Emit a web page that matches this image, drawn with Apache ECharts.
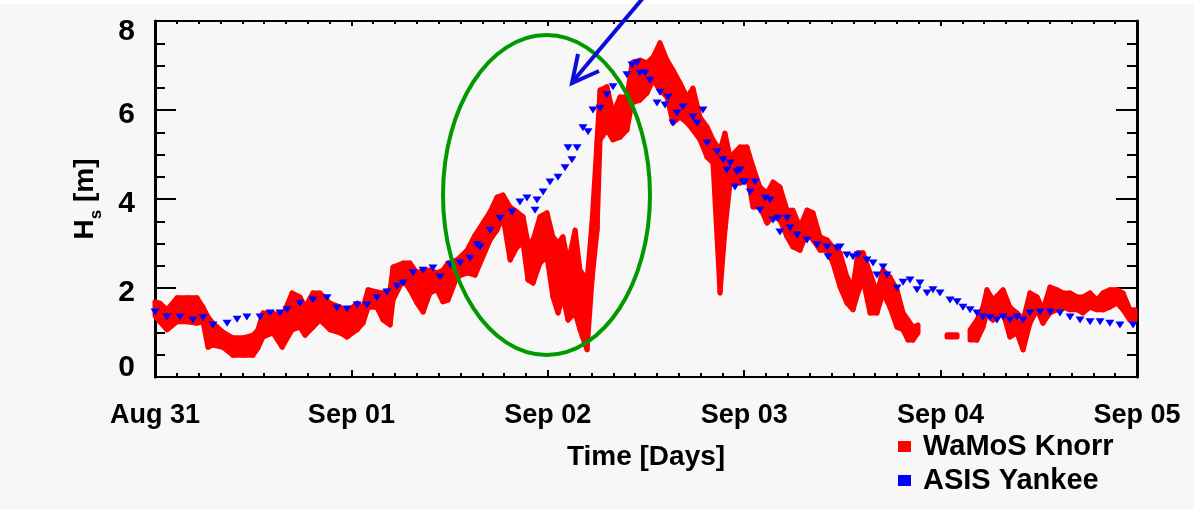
<!DOCTYPE html>
<html>
<head>
<meta charset="utf-8">
<script src="https://cdn.jsdelivr.net/npm/echarts@6/dist/echarts.min.js"></script>
<style>
html,body{margin:0;padding:0;background:#f7f7f7;}
#chart{width:1194px;height:509px;}
</style>
</head>
<body>
<div id="chart"></div>
<script>
// X tick labels (days since Aug 31)
const xTickLabels = ['Aug 31', 'Sep 01', 'Sep 02', 'Sep 03', 'Sep 04', 'Sep 05'];
const seriesNames = ['WaMoS Knorr', 'ASIS Yankee'];

// ASIS Yankee (blue) – time in days since Aug 31, Hs in m
const blueDays = [0.000,0.061,0.127,0.193,0.244,0.295,0.367,0.418,0.468,0.535,0.586,0.636,0.672,0.738,0.804,0.876,0.927,0.978,1.029,1.079,1.130,1.181,1.232,1.263,1.314,1.365,1.415,1.451,1.502,1.553,1.604,1.640,1.655,1.706,1.757,1.818,1.858,1.894,1.935,1.945,1.976,2.011,2.052,2.088,2.123,2.103,2.149,2.179,2.205,2.230,2.266,2.301,2.332,2.403,2.429,2.454,2.469,2.495,2.520,2.556,2.571,2.597,2.612,2.637,2.658,2.688,2.739,2.760,2.790,2.811,2.862,2.892,2.912,2.928,2.953,2.963,2.979,2.994,3.004,3.030,3.055,3.080,3.106,3.131,3.147,3.172,3.182,3.218,3.233,3.269,3.320,3.371,3.422,3.427,3.473,3.488,3.523,3.554,3.579,3.625,3.656,3.676,3.707,3.727,3.778,3.809,3.844,3.880,3.895,3.931,3.961,3.997,4.048,4.084,4.114,4.150,4.185,4.216,4.251,4.287,4.318,4.353,4.389,4.420,4.455,4.506,4.557,4.608,4.659,4.710,4.761,4.812,4.862,4.913,4.980];
const blueHs = [1.46,1.35,1.35,1.28,1.33,1.17,1.21,1.30,1.35,1.35,1.44,1.44,1.51,1.66,1.73,1.78,1.55,1.53,1.62,1.62,1.78,1.91,2.04,2.11,2.34,2.40,2.45,2.25,2.52,2.56,2.67,2.97,2.92,3.30,3.57,3.71,3.93,4.02,3.75,3.98,4.16,4.38,4.49,4.70,4.88,5.15,5.15,5.60,5.51,6.00,6.04,6.34,6.52,6.79,7.01,7.06,6.83,6.83,6.67,6.16,6.40,6.11,6.29,5.71,5.93,6.07,5.84,5.71,6.00,5.26,5.06,4.88,4.65,4.81,4.27,4.61,4.65,4.38,4.38,4.16,4.38,3.75,4.02,3.98,3.53,3.57,3.26,3.57,3.35,3.19,3.08,2.97,2.92,2.70,2.90,2.92,2.74,2.70,2.74,2.63,2.56,2.29,2.47,2.29,2.00,2.13,2.18,1.96,2.11,1.89,1.96,1.89,1.73,1.69,1.57,1.51,1.44,1.35,1.33,1.28,1.35,1.28,1.35,1.28,1.44,1.46,1.46,1.44,1.35,1.28,1.24,1.24,1.21,1.17,1.17];

// WaMoS Knorr (red) – per time step, upper and lower extent of the noisy record (null = no data)
const redDays = [0.000,0.025,0.061,0.112,0.163,0.214,0.244,0.270,0.295,0.346,0.397,0.448,0.499,0.524,0.550,0.601,0.647,0.698,0.738,0.764,0.804,0.840,0.891,0.942,0.978,1.029,1.059,1.085,1.130,1.161,1.197,1.212,1.263,1.298,1.334,1.365,1.400,1.436,1.466,1.492,1.538,1.589,1.630,1.706,1.741,1.772,1.808,1.843,1.874,1.899,1.925,1.960,1.996,2.026,2.052,2.077,2.103,2.139,2.164,2.200,2.225,2.251,2.266,2.301,2.332,2.368,2.403,2.429,2.469,2.505,2.536,2.571,2.607,2.637,2.673,2.709,2.739,2.775,2.811,2.841,2.877,2.902,2.928,2.979,3.014,3.045,3.080,3.116,3.147,3.182,3.218,3.248,3.284,3.320,3.350,3.386,3.422,3.452,3.488,3.523,3.554,3.579,3.605,3.641,3.676,3.707,3.742,3.778,3.809,3.834,3.859,3.885,3.950,4.033,4.084,4.120,4.150,4.185,4.216,4.236,4.267,4.318,4.353,4.389,4.420,4.455,4.491,4.521,4.557,4.593,4.623,4.659,4.695,4.725,4.761,4.796,4.827,4.862,4.898,4.929,4.964,4.990];
const redTop = [1.69,1.66,1.51,1.78,1.78,1.78,1.57,1.35,1.21,1.01,0.88,0.88,0.94,1.06,1.44,1.44,1.35,1.89,1.80,1.57,1.89,1.89,1.66,1.57,1.46,1.66,1.57,1.96,1.91,1.89,1.96,2.47,2.56,2.56,2.34,2.40,2.40,2.34,2.40,2.56,2.63,2.85,3.19,3.71,4.04,4.09,3.82,3.71,3.60,3.01,3.08,3.60,3.69,3.15,3.01,3.15,2.56,3.30,2.40,2.18,3.46,5.33,6.45,6.52,5.93,6.29,6.29,7.06,7.12,7.06,7.19,7.51,7.12,6.90,6.61,6.29,6.49,5.84,5.62,5.33,5.10,5.48,4.94,5.17,5.17,4.72,4.27,4.13,4.38,4.27,3.75,3.75,3.37,3.75,3.69,3.15,3.08,2.92,2.79,2.25,2.02,2.79,2.79,2.34,1.89,2.40,2.25,1.96,1.44,1.28,1.12,1.17,null,0.95,0.95,null,1.06,1.28,1.57,1.96,1.73,1.96,1.57,1.44,1.28,1.89,1.80,1.51,2.02,1.96,1.89,1.89,1.80,1.80,1.89,1.73,1.89,1.96,1.96,1.89,1.51,1.51];
const redBot = [1.37,1.24,1.06,1.24,1.24,1.21,1.24,0.67,0.72,0.67,0.49,0.49,0.49,0.65,0.90,0.99,0.67,1.06,1.12,0.94,1.12,1.28,1.06,0.99,0.90,1.06,1.21,1.57,1.57,1.28,1.17,1.73,2.18,1.96,1.66,1.46,1.89,1.96,1.69,1.73,2.25,2.34,2.29,3.08,3.30,3.60,2.63,2.92,3.01,2.18,2.11,2.56,2.70,1.80,1.44,1.80,1.28,1.44,1.06,0.61,2.18,3.30,5.33,5.55,5.33,5.39,5.55,6.16,6.22,6.38,6.67,6.45,6.29,5.71,5.84,5.71,5.55,5.33,4.94,4.81,1.89,3.30,4.36,4.36,4.58,3.82,3.82,3.46,3.60,3.53,3.15,2.92,2.85,3.24,3.08,2.85,2.85,2.56,2.02,1.66,1.51,1.89,2.18,1.44,1.44,1.89,1.57,1.12,1.06,0.83,0.83,0.99,null,0.90,0.90,null,0.83,0.83,1.12,1.44,1.28,1.44,0.90,0.99,0.61,1.21,1.51,1.21,1.44,1.51,1.57,1.51,1.51,1.44,1.57,1.51,1.51,1.57,1.66,1.51,1.28,1.28];

// Build series data from the named arrays: each segment joins two consecutive valid samples
const redSegments = [];
for (let i = 0; i < redDays.length - 1; i++) {
  if (redTop[i] === null || redTop[i + 1] === null) continue;
  redSegments.push([redDays[i], redTop[i], redBot[i], redDays[i + 1], redTop[i + 1], redBot[i + 1]]);
}
const blueData = blueDays.map((d, i) => [d, blueHs[i]]);

const FONT = 'Liberation Sans';
const black = '#000';
const RED = '#ff0000';
const BLUE = '#0000ff';

function xAxisCfg(pos, showLabels) {
  return {
    type: 'value', min: 0, max: 5, interval: 1, position: pos,
    axisLine: { show: true, onZero: false, lineStyle: { color: black, width: 2 } },
    axisTick: { show: true, inside: true, length: pos === 'top' ? 5 : 7, lineStyle: { color: black, width: 2 } },
    minorTick: { show: true, splitNumber: 9, length: pos === 'top' ? 3 : 4, lineStyle: { color: black, width: 2 } },
    splitLine: { show: false }, minorSplitLine: { show: false },
    axisLabel: showLabels ? {
      show: true, margin: 25, color: black, fontSize: 27, fontWeight: 'bold', fontFamily: FONT,
      formatter: v => xTickLabels[Math.round(v)] || ''
    } : { show: false },
    name: showLabels ? 'Time [Days]' : '',
    nameLocation: 'middle', nameGap: 66,
    nameTextStyle: { color: black, fontSize: 28, fontWeight: 'bold', fontFamily: FONT }
  };
}
function yAxisCfg(pos, showLabels) {
  return {
    type: 'value', min: 0, max: 8, interval: 2, position: pos,
    axisLine: { show: true, onZero: false, lineStyle: { color: black, width: 3 } },
    axisTick: { show: true, inside: true, length: 21, lineStyle: { color: black, width: 2 } },
    minorTick: { show: true, splitNumber: 4, length: 10, lineStyle: { color: black, width: 2 } },
    splitLine: { show: false }, minorSplitLine: { show: false },
    axisLabel: showLabels ? {
      show: true, margin: 20, color: black, fontSize: 30, fontWeight: 'bold', fontFamily: FONT,
      formatter: v => v === 8 ? '{t|' + v + '}' : (v === 0 ? '{b|' + v + '}' : '{m|' + v + '}'),
      rich: {
        t: { fontSize: 30, fontWeight: 'bold', fontFamily: FONT, color: black, padding: [22, 0, 0, 0] },
        m: { fontSize: 30, fontWeight: 'bold', fontFamily: FONT, color: black, padding: [10, 0, 0, 0] },
        b: { fontSize: 30, fontWeight: 'bold', fontFamily: FONT, color: black, padding: [0, 0, 18, 0] }
      }
    } : { show: false },
    name: showLabels ? '{h|H}{s|s}{h| [m]}' : '',
    nameLocation: 'middle', nameRotate: 90, nameGap: 50,
    nameTextStyle: {
      color: black, fontFamily: FONT,
      rich: {
        h: { fontSize: 28, fontWeight: 'bold', fontFamily: FONT, color: black, lineHeight: 34, verticalAlign: 'top' },
        s: { fontSize: 17, fontWeight: 'bold', fontFamily: FONT, color: black, lineHeight: 17, verticalAlign: 'bottom' }
      }
    }
  };
}

const chart = echarts.init(document.getElementById('chart'), null, { renderer: 'canvas' });
chart.setOption({
  animation: false,
  backgroundColor: '#f7f7f7',
  grid: { left: 155, right: 57, top: 21, bottom: 132, containLabel: false },
  xAxis: [xAxisCfg('bottom', true), xAxisCfg('top', false)],
  yAxis: [yAxisCfg('left', true), yAxisCfg('right', false)],
  legend: {
    orient: 'vertical', left: 893, top: 427, icon: 'rect',
    itemWidth: 13, itemHeight: 11, itemGap: 5,
    textStyle: { color: black, fontSize: 29, fontWeight: 'bold', fontFamily: FONT, lineHeight: 29, padding: [0, 0, 0, 7] },
    data: seriesNames
  },
  series: [
    {
      name: seriesNames[0], type: 'custom', xAxisIndex: 0, yAxisIndex: 0,
      data: redSegments,
      encode: { x: [0, 3], y: [1, 2, 4, 5] },
      itemStyle: { color: RED },
      renderItem: function (params, api) {
        const a = api.coord([api.value(0), api.value(1)]);
        const b = api.coord([api.value(0), api.value(2)]);
        const c = api.coord([api.value(3), api.value(4)]);
        const d = api.coord([api.value(3), api.value(5)]);
        return {
          type: 'polygon',
          shape: { points: [a, c, d, b] },
          style: { fill: RED, stroke: RED, lineWidth: 5, lineJoin: 'round' }
        };
      },
      z: 2
    },
    {
      name: seriesNames[1], type: 'scatter', xAxisIndex: 0, yAxisIndex: 0,
      data: blueData, symbol: 'triangle', symbolRotate: 180, symbolSize: [9, 7],
      itemStyle: { color: BLUE, opacity: 1 },
      z: 3
    }
  ],
  graphic: [
    { type: 'rect', left: 0, top: 0, shape: { width: 1194, height: 4 }, style: { fill: '#ffffff' }, z: 0, silent: true },
    { type: 'ellipse', shape: { cx: 546.5, cy: 195, rx: 103.5, ry: 160 }, style: { fill: 'none', stroke: '#009a00', lineWidth: 4 }, z: 100 },
    { type: 'line', shape: { x1: 643, y1: -2, x2: 574, y2: 80 }, style: { stroke: '#0d0dd9', lineWidth: 4 }, z: 100 },
    { type: 'polyline', shape: { points: [[578, 54], [572, 83], [599, 71]] }, style: { stroke: '#0d0dd9', lineWidth: 4, fill: 'none', lineJoin: 'miter' }, z: 100 }
  ]
});
</script>
</body>
</html>
